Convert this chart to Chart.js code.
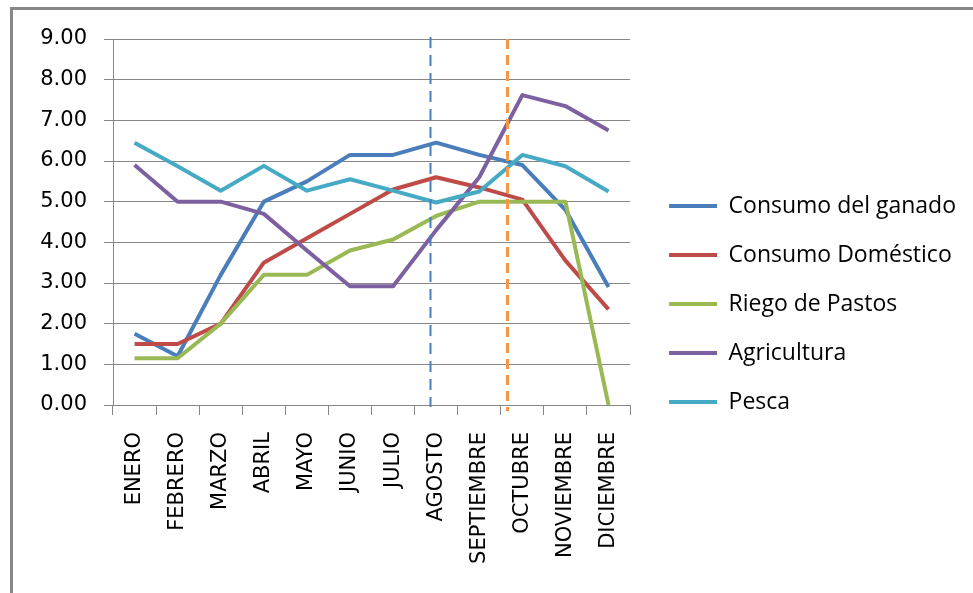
<!DOCTYPE html>
<html>
<head>
<meta charset="utf-8">
<script src="https://cdn.jsdelivr.net/npm/chart.js@4.4.1/dist/chart.umd.min.js"></script>
<style>
  html, body { margin: 0; padding: 0; background: #fff; }
  #wrap { position: relative; width: 973px; height: 593px; overflow: hidden; }
  #frame { position: absolute; left: 10px; top: 7px; right: -10px; bottom: -10px;
           border-left: 3px solid #878787; border-top: 3px solid #878787; }
  #c { position: absolute; left: 0; top: 0; }
</style>
</head>
<body>
<div id="wrap">
  <div id="frame"></div>
  <canvas id="c" width="973" height="593"></canvas>
</div>
<script>
// Meses del año
const meses = ['ENERO', 'FEBRERO', 'MARZO', 'ABRIL', 'MAYO', 'JUNIO', 'JULIO',
               'AGOSTO', 'SEPTIEMBRE', 'OCTUBRE', 'NOVIEMBRE', 'DICIEMBRE'];

// Demanda mensual por uso
const consumoGanado    = [1.75, 1.20, 3.20, 5.00, 5.50, 6.15, 6.15, 6.45, 6.15, 5.90, 4.80, 2.90];
const consumoDomestico = [1.50, 1.50, 2.00, 3.50, 4.10, 4.70, 5.30, 5.60, 5.35, 5.05, 3.55, 2.35];
const riegoPastos      = [1.15, 1.15, 2.00, 3.20, 3.20, 3.80, 4.07, 4.65, 5.00, 5.00, 5.00, 0.00];
const agricultura      = [5.90, 5.00, 5.00, 4.70, 3.80, 2.92, 2.92, 4.30, 5.60, 7.62, 7.35, 6.75];
const pesca            = [6.45, 5.87, 5.27, 5.88, 5.27, 5.55, 5.27, 4.98, 5.25, 6.15, 5.87, 5.25];

// Marcas del eje vertical
const ejeY = [0, 1, 2, 3, 4, 5, 6, 7, 8, 9];

// Líneas de corte (posición en meses, 0 = ENERO)
const cortes = [6.86, 8.65];

const series = [
  { label: 'Consumo del ganado', data: consumoGanado,    color: '#4a7ebb' },
  { label: 'Consumo Doméstico',  data: consumoDomestico, color: '#be4b48' },
  { label: 'Riego de Pastos',    data: riegoPastos,      color: '#98b954' },
  { label: 'Agricultura',        data: agricultura,      color: '#7d60a0' },
  { label: 'Pesca',              data: pesca,            color: '#46aac5' }
];

// Dibuja las líneas discontinuas verticales
const cortesPlugin = {
  id: 'cortes',
  afterDatasetsDraw(chart) {
    const { ctx, scales: { x, y } } = chart;
    const estilos = [
      { color: '#4a7ebb', width: 2, dash: [11, 7], top: 9.05, bottom: -0.05 },
      { color: '#f79646', width: 3, dash: [10, 6], top: 9.0, bottom: -0.15 }
    ];
    cortes.forEach((m, i) => {
      const s = estilos[i];
      const px = Math.round(x.getPixelForValue(m)) + 0.5;
      ctx.save();
      ctx.strokeStyle = s.color;
      ctx.lineWidth = s.width;
      ctx.setLineDash(s.dash);
      ctx.beginPath();
      ctx.moveTo(px, y.getPixelForValue(s.top));
      ctx.lineTo(px, y.getPixelForValue(s.bottom));
      ctx.stroke();
      ctx.restore();
    });
  }
};

new Chart(document.getElementById('c'), {
  type: 'line',
  data: {
    labels: meses,
    datasets: series.map((s, i) => ({
      label: s.label,
      data: s.data,
      borderColor: s.color,
      backgroundColor: s.color,
      borderWidth: 4,
      tension: 0,
      pointRadius: 0,
      borderJoinStyle: 'round',
      fill: false,
      order: series.length - i
    }))
  },
  options: {
    responsive: false,
    animation: false,
    devicePixelRatio: 1,
    layout: { padding: { left: 0, top: 39, right: 7, bottom: 24 } },
    plugins: {
      tooltip: { enabled: false },
      legend: {
        position: 'right',
        align: 'center',
        maxWidth: 420,
        labels: {
          boxWidth: 48,
          boxHeight: 4,
          padding: 26,
          color: '#000',
          font: { family: '"Open Sans"', size: 23 },
          sort: (a, b) => a.datasetIndex - b.datasetIndex,
          generateLabels(chart) {
            return Chart.defaults.plugins.legend.labels.generateLabels(chart)
              .map(l => ({ ...l, fillStyle: l.strokeStyle, lineWidth: 0 }));
          }
        }
      }
    },
    scales: {
      x: {
        offset: true,
        grid: { offset: true, drawOnChartArea: false, drawTicks: true, tickLength: 10,
                color: '#868686', lineWidth: 1 },
        border: { display: false },
        ticks: { color: '#000', font: { family: '"DejaVu Sans"', size: 21 },
                 minRotation: 90, maxRotation: 90, padding: 17, autoSkip: false },
        afterFit(s) { s.height = 164; }
      },
      y: {
        min: 0,
        max: 9,
        afterBuildTicks(s) { s.ticks = ejeY.map(v => ({ value: v })); },
        ticks: { color: '#000', font: { family: '"DejaVu Sans"', size: 21 }, padding: 17,
                 callback: v => Number(v).toFixed(2) },
        grid: { color: '#868686', lineWidth: 1, tickLength: 9, drawTicks: true },
        border: { display: true, color: '#868686', width: 1 },
        afterFit(s) { s.width = 113; }
      },
      margen: {
        position: 'right',
        display: true,
        grid: { display: false },
        border: { display: false },
        ticks: { display: false },
        afterFit(s) { s.width = 13; }
      }
    }
  },
  plugins: [cortesPlugin]
});
</script>
</body>
</html>
